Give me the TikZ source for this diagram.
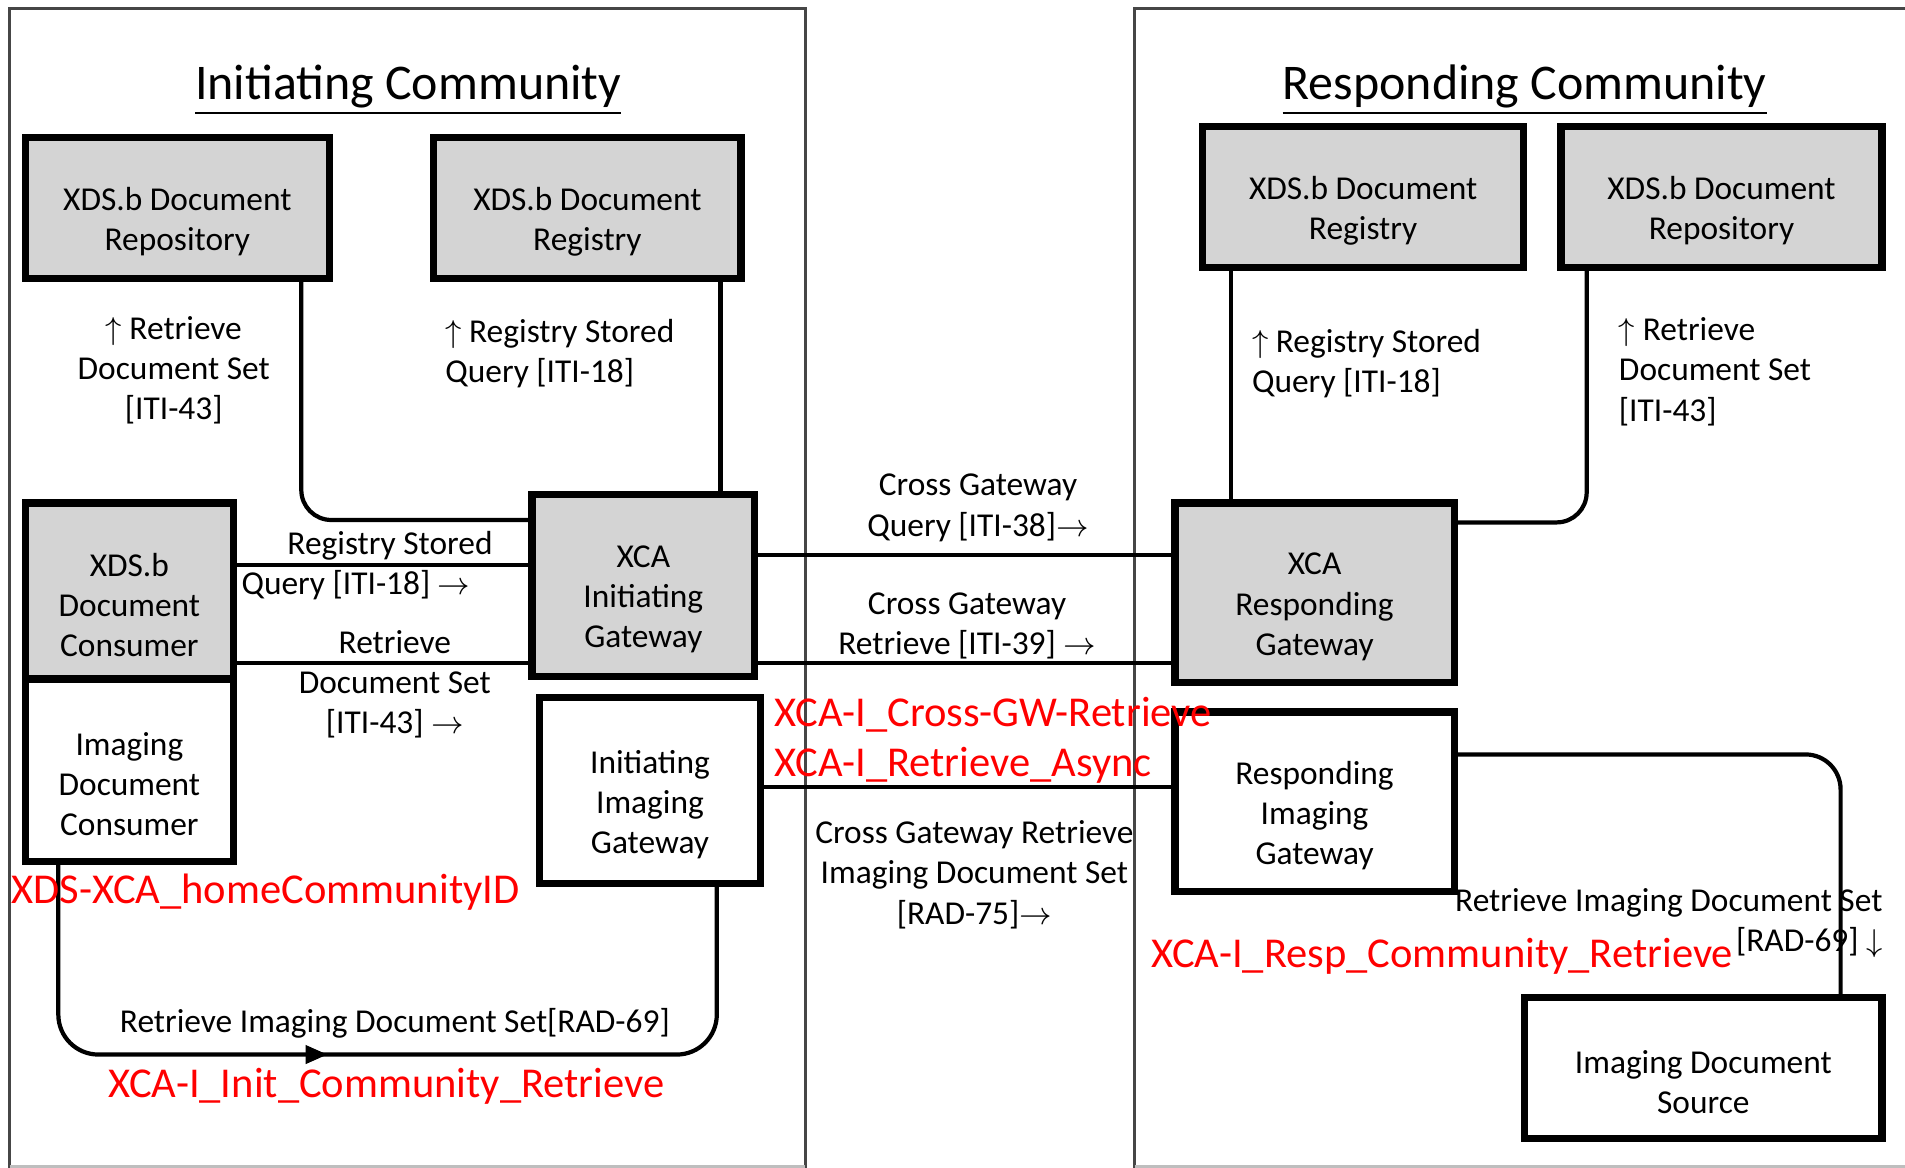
\documentclass[tikz,border=0pt]{standalone}
\usepackage{fontspec}
\setmainfont{Carlito}
\usepackage{tikz}
\usetikzlibrary{arrows.meta}
\usetikzlibrary{decorations.markings}
\definecolor{actorgray}{RGB}{212,212,212}
\definecolor{framegray}{RGB}{70,70,70}
\tikzset{
    actor/.style={
        draw, line width=2.1pt, inner sep=0pt
    },
    grayactor/.style={actor, fill=actorgray},
    whiteactor/.style={actor, fill=white},
    actortext/.style={
        inner sep=0pt, align=center, font=\fontsize{9.5}{11.4}\selectfont
    },
    link/.style={line width=1.2pt, rounded corners=0.3cm},
    txn/.style={inner sep=0pt, font=\fontsize{9.5}{11.4}\selectfont},
    note/.style={inner sep=0pt, text=red, font=\fontsize{12.1}{14.5}\selectfont},
    heading/.style={inner sep=0pt, font=\fontsize{14.2}{17}\selectfont},
    community/.style={draw=framegray, line width=0.9pt},
    midarrow/.style={
        decoration={
            markings,
            mark={ at position #1 with {\arrow{Triangle[length=0.22cm,width=0.18cm]}} }
        },
        postaction=decorate
    },
    midarrow/.default=0.45
}
\newcommand{\actorBox}[7] {
	\node[#6, minimum width={(#4-#2)*0.01215cm}, minimum height={(#5-#3)*0.01215cm}] (#1) at ({(#2+#4)/2},{(#3+#5)/2}) {};
	\node[actortext] (#1-text) at ([yshift=-0.14cm]#1.center) {#7};
}

\begin{document}
\begin{tikzpicture}[x=0.01215cm, y=-0.01215cm]
		\useasboundingbox (0,0) rectangle (1568,961);

		% Community frames
		\draw[community] (8,961) -- (8,7) -- (663,7) -- (663,961);
		\draw[community] (934,961) -- (934,7) -- (1568,7);
		\draw[framegray!35, line width=0.9pt] (8,960) -- (663,960);
		\draw[framegray!35, line width=0.9pt] (934,960) -- (1568,960);

		\node[heading, anchor=base] (titleIC) at (336,82) {\underline{Initiating Community}};
		\node[heading, anchor=base] (titleRC) at (1255,82) {\underline{Responding Community}};

		% Initiating side
		\actorBox{repoIC}{21}{113}{271}{229}{grayactor}{XDS.b Document\\Repository}
		\actorBox{regIC}{357}{113}{610}{229}{grayactor}{XDS.b Document\\Registry}
		\actorBox{consumer}{21}{414}{192}{559}{grayactor}{XDS.b\\Document\\Consumer}
		\actorBox{imgConsumer}{21}{559}{192}{709}{whiteactor}{Imaging\\Document\\Consumer}
		\actorBox{xcaIG}{438}{407}{621}{557}{grayactor}{XCA\\Initiating\\Gateway}
		\actorBox{imgIG}{444}{574}{626}{727}{whiteactor}{Initiating\\Imaging\\Gateway}

		% Responding side
		\actorBox{regRC}{990}{104}{1254}{220}{grayactor}{XDS.b Document\\Registry}
		\actorBox{repoRC}{1285}{104}{1549}{220}{grayactor}{XDS.b Document\\Repository}
		\actorBox{xcaRG}{967}{414}{1197}{562}{grayactor}{XCA\\Responding\\Gateway}
		\actorBox{imgRG}{967}{586}{1197}{734}{whiteactor}{Responding\\Imaging\\Gateway}
		\actorBox{imgSource}{1255}{821}{1549}{937}{whiteactor}{Imaging Document\\Source}

		% Links inside initiating community
		\draw[link] (248,0 |- repoIC.south) |- (xcaIG.west |- 0,428);
		\draw[link] (593,0 |- regIC.south) -- (593,0 |- xcaIG.north);
		\draw[link] (consumer.east |- 0,465) -- (xcaIG.west |- 0,465);
		\draw[link] (consumer.east |- 0,546) -- (xcaIG.west |- 0,546);
		\draw[link, rounded corners=0.4cm, midarrow] (48,0 |- imgConsumer.south) |- (590,868) -- (590,0 |- imgIG.south);

		% Links across communities
		\draw[link] (xcaIG.east |- 0,457) -- (xcaRG.west |- 0,457);
		\draw[link] (xcaIG.east |- 0,546) -- (xcaRG.west |- 0,546);
		\draw[link] (imgIG.east |- 0,648) -- (imgRG.west |- 0,648);

		% Links inside responding community
		\draw[link] (1013,0 |- regRC.south) -- (1013,0 |- xcaRG.north);
		\draw[link] (1306,0 |- repoRC.south) |- (xcaRG.east |- 0,430);
		\draw[link, rounded corners=0.35cm] (imgRG.east |- 0,621) -| (1515,0 |- imgSource.north);

		% Transaction labels
		\node[txn, align=center] (lblRetrieveIC) at (143,305) {$\uparrow$ Retrieve\\Document Set\\{[ITI-43]}};
		\node[txn, align=left, anchor=west] (lblQueryIC) at (366,291) {$\uparrow$ Registry Stored\\Query [ITI-18]};
		\node[txn] (lblQueryTop) at (321,449) {Registry Stored};
		\node[txn] (lblQueryBot) at (293,482) {Query [ITI-18] $\rightarrow$};
		\node[txn, align=center] (lblRetrieveSet) at (325,563) {Retrieve\\Document Set\\{[ITI-43]} $\rightarrow$};
		\node[txn] (lblRAD69IC) at (325,842) {Retrieve Imaging Document Set[RAD-69]};
		\node[txn, align=center] (lblITI38) at (805,418) {Cross Gateway\\Query [ITI-38]$\rightarrow$};
		\node[txn, align=center] (lblITI39) at (796,515) {Cross Gateway\\Retrieve [ITI-39] $\rightarrow$};
		\node[txn, align=center] (lblRAD75) at (802,720) {Cross Gateway Retrieve\\Imaging Document Set\\{[RAD-75]}$\rightarrow$};
		\node[txn, align=left, anchor=west] (lblQueryRC) at (1030,299) {$\uparrow$ Registry Stored\\Query [ITI-18]};
		\node[txn, align=left, anchor=west] (lblRetrieveRC) at (1332,306) {$\uparrow$ Retrieve\\Document Set\\{[ITI-43]}};
		\node[txn, align=right, anchor=east] (lblRAD69RC) at (1550,760) {Retrieve Imaging Document Set\\{[RAD-69]} $\downarrow$};

		% Red notes
		\node[note, anchor=west] (noteCrossGW) at (637,588) {XCA-I\_Cross-GW-Retrieve};
		\node[note, anchor=west] (noteAsync) at (637,630) {XCA-I\_Retrieve\_Async};
		\node[note, anchor=west] (noteHomeID) at (9,734) {XDS-XCA\_homeCommunityID};
		\node[note] (noteInit) at (318,894) {XCA-I\_Init\_Community\_Retrieve};
		\node[note, anchor=west] (noteResp) at (947,787) {XCA-I\_Resp\_Community\_Retrieve};

	\end{tikzpicture}
\end{document}
